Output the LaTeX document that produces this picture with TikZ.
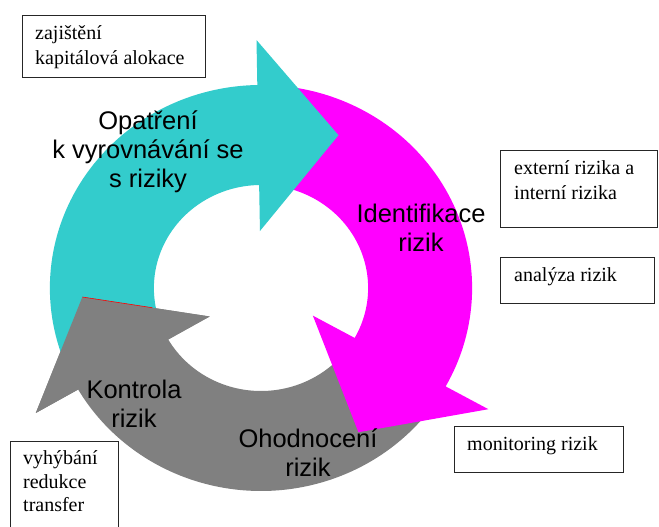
\documentclass[tikz,border=0pt]{standalone}
\usepackage{fontspec}
\setmainfont{Liberation Serif}
\newfontfamily\arialfont{Liberation Sans}
\usetikzlibrary{calc}
\definecolor{cyanA}{HTML}{33CCCC}
\definecolor{magA}{HTML}{FF00FF}
\definecolor{grayA}{HTML}{808080}
\begin{document}
\begin{tikzpicture}[x=1pt,y=1pt,
  lbl/.style={inner sep=0, anchor=base, font=\arialfont\fontsize{25.5}{29}\selectfont},
  boxtxt/.style={inner sep=0, anchor=base west, font=\fontsize{20}{24.5}\selectfont},
  box/.style={draw=black!85, line width=1pt, inner sep=0, anchor=north west}]
\useasboundingbox (0,0) rectangle (659,527);
\fill[white] (0,0) rectangle (659,527);

% circular arrows
\begin{scope}[shift={(261,239)}, xscale=1.04]
  \fill[grayA] (-35:203) arc[start angle=-35, end angle=-150, radius=203]
     -- (-150:250) -- (-177:172) -- (-150:57) -- (-150:103)
     arc[start angle=-150, end angle=-35, radius=103] -- cycle;
  \fill[magA] (85:203) arc[start angle=85, end angle=-29, radius=203]
     -- (-29:250) -- (-57:172) -- (-29:57) -- (-29:103)
     arc[start angle=-29, end angle=85, radius=103] -- cycle;
  \fill[cyanA] (205:203) arc[start angle=205, end angle=91, radius=203]
     -- (91:248) -- (64:170) -- (91:57) -- (91:103)
     arc[start angle=91, end angle=205, radius=103] -- cycle;
  \coordinate (gout) at (-150:250);
  \coordinate (gtip) at (-177:172);
  \coordinate (gin) at (-150:57);
  \fill[grayA] (gout) -- (gtip) -- (gin) -- cycle;
  \draw[red, line width=0.6pt] (gtip) -- ($(gtip)!0.55!(gin)$);
\end{scope}

% labels on arrows
\node[lbl] (l1) at (148,397) {\parbox[t]{250pt}{\centering Opatření\\k vyrovnávání se\\s riziky}};
\node[lbl] (l2) at (421,304) {\parbox[t]{200pt}{\centering Identifikace\\rizik}};
\node[lbl] (l3) at (134,128) {\parbox[t]{200pt}{\centering Kontrola\\rizik}};
\node[lbl] (l4) at (308,79) {\parbox[t]{200pt}{\centering Ohodnocení\\rizik}};

% boxes
\node[box, minimum width=183pt, minimum height=62pt] (b1) at (22,512) {};
\node[box, minimum width=157pt, minimum height=77pt] (b2) at (500,377) {};
\node[box, minimum width=154pt, minimum height=46pt] (b3) at (500,270) {};
\node[box, minimum width=169pt, minimum height=46pt] (b4) at (454,101) {};
\node[box, minimum width=108pt, minimum height=100pt] (b5) at (10,86) {};

\node[boxtxt] (t1) at (35,487) {\parbox[t]{170pt}{\raggedright zajištění\\kapitálová alokace}};
\node[boxtxt] (t2) at (514,352) {\parbox[t]{140pt}{\raggedright externí rizika a\\interní rizika}};
\node[boxtxt] (t3) at (514,245) {analýza rizik};
\node[boxtxt] (t4) at (467,76) {monitoring rizik};
\node[boxtxt, font=\fontsize{20}{23.5}\selectfont] (t5) at (23,62) {\parbox[t]{90pt}{\raggedright vyhýbání\\redukce\\transfer}};
\end{tikzpicture}
\end{document}
